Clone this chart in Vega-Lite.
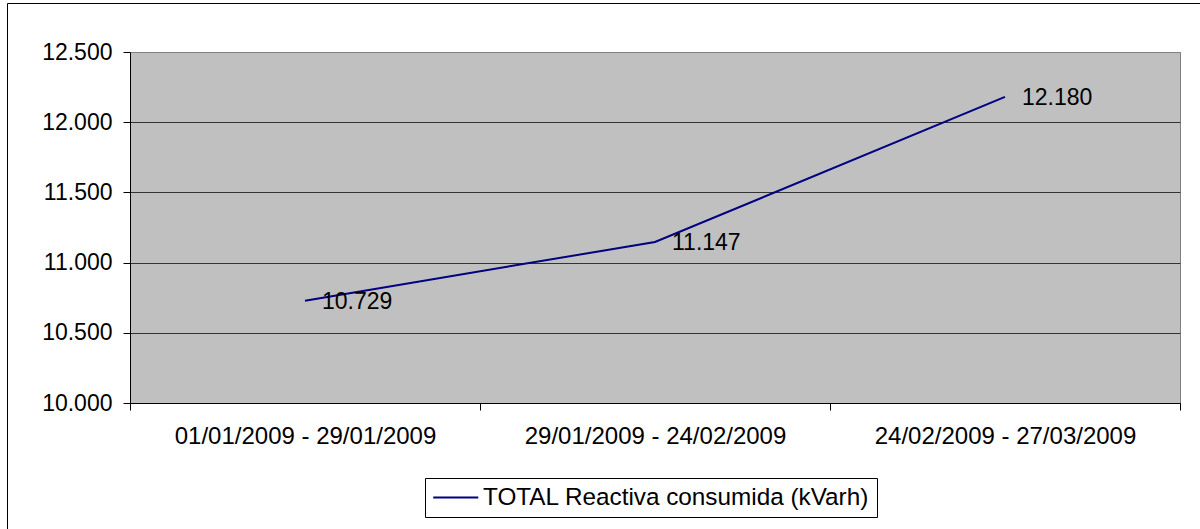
{
  "$schema": "https://vega.github.io/schema/vega-lite/v6.json",
  "autosize": "none",
  "width": 1050,
  "height": 351,
  "padding": {"left": 130, "top": 52, "right": 20, "bottom": 126},
  "background": "white",
  "config": {
    "font": "Liberation Sans",
    "view": {"fill": "#C0C0C0", "stroke": "#808080", "strokeWidth": 1},
    "locale": {"number": {"decimal": ",", "thousands": ".", "grouping": [3], "currency": ["", " €"]}},
    "axis": {"labelFont": "Liberation Sans", "labelColor": "black", "domainColor": "black", "tickColor": "black", "tickSize": 7, "title": null, "labelLimit": 0}
  },
  "data": {
    "values": [
      {"periodo": "01/01/2009 - 29/01/2009", "valor": 10729, "serie": "TOTAL Reactiva consumida (kVarh)"},
      {"periodo": "29/01/2009 - 24/02/2009", "valor": 11147, "serie": "TOTAL Reactiva consumida (kVarh)"},
      {"periodo": "24/02/2009 - 27/03/2009", "valor": 12180, "serie": "TOTAL Reactiva consumida (kVarh)"}
    ]
  },
  "encoding": {
    "x": {
      "field": "periodo", "type": "nominal", "sort": null,
      "scale": {"type": "band", "paddingInner": 0, "paddingOuter": 0},
      "axis": {"labelAngle": 0, "labelFontSize": 24, "labelPadding": 14, "tickBand": "extent", "grid": false, "domainColor": "black", "labelLimit": 0}
    },
    "y": {
      "field": "valor", "type": "quantitative",
      "scale": {"domain": [10000, 12500], "nice": false, "zero": false},
      "axis": {"values": [10000, 10500, 11000, 11500, 12000, 12500], "format": ",.0f", "labelFontSize": 23, "labelPadding": 11, "grid": true,
        "gridColor": {"condition": {"test": "datum.value == 12500", "value": "#808080"}, "value": "#333333"}, "gridWidth": 1}
    }
  },
  "layer": [
    {
      "mark": {"type": "line", "strokeWidth": 2},
      "encoding": {
        "color": {
          "field": "serie", "type": "nominal",
          "scale": {"range": ["#000080"]},
          "legend": {
            "orient": "none", "legendX": 295, "legendY": 426, "title": null,
            "symbolType": "M-1,0H3", "symbolSize": 506.25, "symbolStrokeWidth": 2,
            "labelFontSize": 24.3, "labelFont": "Liberation Sans", "labelColor": "black", "labelOffset": 26, "labelLimit": 0,
            "strokeColor": "black", "padding": 7, "fillColor": "white"
          }
        }
      }
    },
    {
      "mark": {"type": "text", "align": "left", "baseline": "middle", "dx": 17, "dy": 1, "fontSize": 23, "color": "black"},
      "encoding": {
        "text": {"field": "valor", "type": "quantitative", "format": ",.0f"},
        "opacity": {
          "field": "serie", "type": "nominal",
          "scale": {"range": [1]},
          "legend": {
            "orient": "none", "legendX": -123, "legendY": -49, "title": null,
            "padding": 597, "strokeColor": "black", "fillColor": null,
            "labelExpr": "''", "labelFontSize": 1, "symbolSize": 0, "symbolOpacity": 0, "labelOpacity": 0,
            "symbolStrokeColor": "transparent", "symbolFillColor": "transparent"
          }
        }
      }
    }
  ]
}
